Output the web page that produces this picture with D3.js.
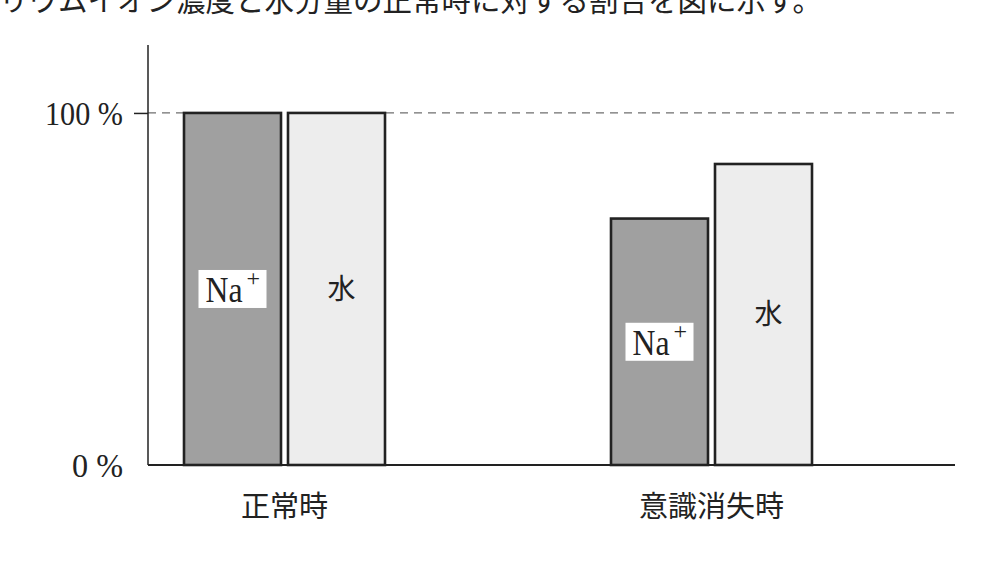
<!DOCTYPE html>
<html><head><meta charset="utf-8">
<script src="https://cdn.jsdelivr.net/npm/d3@7"></script>
<style>html,body{margin:0;padding:0;background:#fff;}svg{display:block;}</style>
</head><body>
<svg id="c" width="1000" height="566"></svg>
<script>
const categories = ["正常時", "意識消失時"];
const seriesNames = ["Na", "水"];
const naValues = [100, 70];
const waterValues = [100, 85.5];
const yTicks = [0, 100];
const yTickLabels = ["0 %", "100 %"];
const topText = "リウムイオン濃度と水分量の正常時に対する割合を図に示す。";

const svg = d3.select("#c");
const left = 148, right = 955, bottom = 465;
const y = d3.scaleLinear().domain([0, 119.3]).range([bottom, 45]);
const x = d3.scalePoint().domain(categories).range([284.5, 711.5]);
const xs = d3.scaleBand().domain(seriesNames).range([-100.5, 100.5]).paddingInner(0.0673);
const fills = {"Na": "#a0a0a0", "水": "#ededed"};
const serif = "'Liberation Serif','DejaVu Serif',serif";
const cjk = "'Noto Sans CJK JP','Noto Sans CJK SC',sans-serif";

// top text (cropped at the top edge, as in the reference)
svg.append("text").attr("x", -1).attr("y", 11).attr("font-family", cjk)
  .attr("font-size", 29.5).attr("fill", "#222").text(topText);

// dashed 100% line
svg.append("line").attr("x1", left).attr("x2", right).attr("y1", y(100)).attr("y2", y(100))
  .attr("stroke", "#6f6f6f").attr("stroke-width", 1.3).attr("stroke-dasharray", "8,6");

// bars
const data = [];
categories.forEach((c, i) => {
  data.push({cat: c, s: "Na", v: naValues[i]});
  data.push({cat: c, s: "水", v: waterValues[i]});
});
svg.selectAll("rect.bar").data(data).join("rect").attr("class", "bar")
  .attr("x", d => x(d.cat) + xs(d.s)).attr("width", xs.bandwidth())
  .attr("y", d => y(d.v)).attr("height", d => y(0) - y(d.v))
  .attr("fill", d => fills[d.s]).attr("stroke", "#222").attr("stroke-width", 2.6);

// axes
const yAxis = d3.axisLeft(y).tickValues(yTicks).tickFormat((d, i) => yTickLabels[i]).tickSize(14).tickPadding(11);
const ga = svg.append("g").attr("transform", `translate(${left},0)`).call(yAxis);
ga.select(".domain").remove();
ga.selectAll(".tick line").attr("stroke", "#222").attr("stroke-width", 1.5);
ga.selectAll(".tick text").attr("font-family", serif).attr("font-size", 34).attr("fill", "#222")
  .attr("dy", "0.34em").attr("textLength", d => d === 100 ? 78 : 51).attr("lengthAdjust", "spacingAndGlyphs");
ga.selectAll(".tick").filter(d => d === 0).select("line").remove();
svg.append("line").attr("x1", left).attr("x2", left).attr("y1", y.range()[1]).attr("y2", bottom)
  .attr("stroke", "#222").attr("stroke-width", 1.5);
svg.append("line").attr("x1", left).attr("x2", right).attr("y1", bottom).attr("y2", bottom)
  .attr("stroke", "#222").attr("stroke-width", 1.8);

// category labels
svg.selectAll("text.cat").data(categories).join("text").attr("class", "cat")
  .attr("x", d => x(d)).attr("y", 517).attr("text-anchor", "middle")
  .attr("font-family", cjk).attr("font-size", 29).attr("fill", "#222").text(d => d);

// in-bar labels
data.forEach(d => {
  const cx = x(d.cat) + xs(d.s) + xs.bandwidth() / 2;
  const cy = y(d.v / 2);
  if (d.s === "Na") {
    svg.append("rect").attr("x", cx - 34).attr("y", cy - 19).attr("width", 68).attr("height", 38).attr("fill", "#fff");
    const t = svg.append("text").attr("x", cx - 27).attr("y", cy + 13).attr("font-family", serif).attr("fill", "#222");
    t.append("tspan").attr("font-size", 35).attr("textLength", 37).attr("lengthAdjust", "spacingAndGlyphs").text("Na");
    t.append("tspan").attr("dx", 4).attr("dy", -16).attr("font-size", 24).text("+");
  } else {
    svg.append("text").attr("x", cx + 5).attr("y", cy + 10).attr("text-anchor", "middle")
      .attr("font-family", cjk).attr("font-size", 28).attr("fill", "#222").text("水");
  }
});
</script>
</body></html>
